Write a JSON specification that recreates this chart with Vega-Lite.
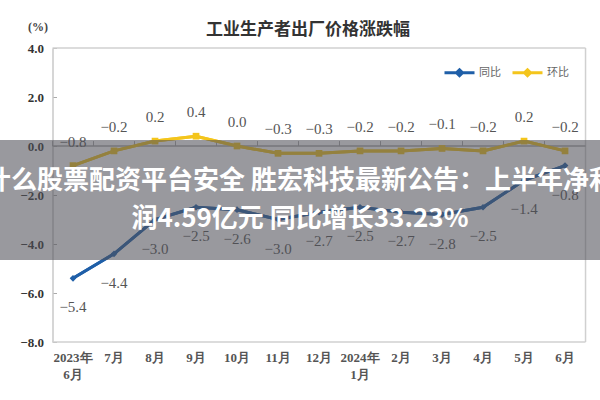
{
  "$schema": "https://vega.github.io/schema/vega-lite/v6.json",
  "width": 600,
  "height": 294,
  "autosize": "none",
  "padding": {"top": 48, "left": 0, "right": 0, "bottom": 58},
  "background": "white",
  "config": {"view": {"stroke": null}},
  "title": {"text": "工业生产者出厂价格涨跌幅", "font": "Noto Sans CJK SC", "fontSize": 17, "fontWeight": "bold", "color": "#333", "anchor": "middle", "frame": "group", "dx": 8, "offset": -19},
  "datasets": {
    "ppi": [
      {"m": "2023年6月", "s": "同比", "v": -5.4},
      {"m": "7月", "s": "同比", "v": -4.4},
      {"m": "8月", "s": "同比", "v": -3.0},
      {"m": "9月", "s": "同比", "v": -2.5},
      {"m": "10月", "s": "同比", "v": -2.6},
      {"m": "11月", "s": "同比", "v": -3.0},
      {"m": "12月", "s": "同比", "v": -2.7},
      {"m": "2024年1月", "s": "同比", "v": -2.5},
      {"m": "2月", "s": "同比", "v": -2.7},
      {"m": "3月", "s": "同比", "v": -2.8},
      {"m": "4月", "s": "同比", "v": -2.5},
      {"m": "5月", "s": "同比", "v": -1.4},
      {"m": "6月", "s": "同比", "v": -0.8},
      {"m": "2023年6月", "s": "环比", "v": -0.8},
      {"m": "7月", "s": "环比", "v": -0.2},
      {"m": "8月", "s": "环比", "v": 0.2},
      {"m": "9月", "s": "环比", "v": 0.4},
      {"m": "10月", "s": "环比", "v": 0.0},
      {"m": "11月", "s": "环比", "v": -0.3},
      {"m": "12月", "s": "环比", "v": -0.3},
      {"m": "2024年1月", "s": "环比", "v": -0.2},
      {"m": "2月", "s": "环比", "v": -0.2},
      {"m": "3月", "s": "环比", "v": -0.1},
      {"m": "4月", "s": "环比", "v": -0.2},
      {"m": "5月", "s": "环比", "v": 0.2},
      {"m": "6月", "s": "环比", "v": -0.2}
    ],
    "one": [{"k": 1}]
  },
  "layer": [
    {"data": {"name": "ppi"}, "mark": {"type": "line", "strokeWidth": 3},
      "encoding": {
        "x": {"field": "m", "type": "ordinal",
          "scale": {"type": "band", "domain": ["2023年6月","7月","8月","9月","10月","11月","12月","2024年1月","2月","3月","4月","5月","6月"], "paddingInner": 0, "paddingOuter": 0.817, "align": 0.784},
          "axis": {"title": null, "orient": "bottom", "domain": false, "ticks": false, "labelAngle": 0, "labelPadding": 9, "labelBaseline": "top", "labelLineHeight": 17, "labelFont": "Liberation Serif", "labelFontWeight": "bold", "labelFontSize": 13, "labelColor": "#555", "labelOverlap": false, "labelFlush": false, "labelBound": false,
            "labelExpr": "indexof(datum.value,'年') > 0 ? [slice(datum.value,0,5), slice(datum.value,5)] : datum.value"}},
        "y": {"field": "v", "type": "quantitative",
          "scale": {"domain": [-8, 4], "nice": false, "zero": false},
          "axis": {"values": [-8, -6, -4, -2, 0, 2, 4], "format": ".1f", "offset": -52.5, "grid": false, "domainColor": "#c8c8c8", "domainWidth": 1.5, "tickColor": "#aaa", "tickSize": -4, "labelPadding": 13, "labelFont": "Liberation Serif", "labelFontWeight": "bold", "labelFontSize": 13, "labelColor": "#333",
            "title": "(%)", "titleAngle": 0, "titleX": -15, "titleY": -22, "titleAlign": "center", "titleBaseline": "middle", "titleFont": "Liberation Serif", "titleFontWeight": "bold", "titleFontSize": 12, "titleColor": "#444"}},
        "color": {"field": "s", "type": "nominal",
          "scale": {"domain": ["同比", "环比"], "range": ["#1f5fa8", "#f4c51c"]},
          "legend": {"orient": "none", "legendX": 443, "legendY": 8, "direction": "horizontal", "title": null, "symbolType": "M-1,0H1M0,-0.2L0.2,0L0,0.2L-0.2,0Z", "symbolSize": 900, "symbolStrokeWidth": 3, "labelFont": "Noto Sans CJK SC", "labelFontSize": 11, "labelColor": "#666", "labelOffset": 3, "columnPadding": 5, "padding": 0}}}},
    {"data": {"name": "one"}, "mark": {"type": "rule", "color": "#d0d0d0", "strokeWidth": 1.5},
      "encoding": {"x": {"datum": "6月", "type": "ordinal", "bandPosition": 1}, "y": {"datum": 4, "type": "quantitative"}, "y2": {"datum": -8}}},
    {"data": {"name": "one"}, "mark": {"type": "rule", "color": "#d0d0d0", "strokeWidth": 1.5},
      "encoding": {"x": {"datum": "2023年6月", "type": "ordinal", "bandPosition": 0}, "x2": {"datum": "6月", "bandPosition": 1}, "y": {"datum": 4, "type": "quantitative"}}},
    {"data": {"name": "one"}, "mark": {"type": "rule", "color": "#d0d0d0", "strokeWidth": 1.5},
      "encoding": {"x": {"datum": "2023年6月", "type": "ordinal", "bandPosition": 0}, "x2": {"datum": "6月", "bandPosition": 1}, "y": {"datum": -8, "type": "quantitative"}}},
    {"data": {"name": "one"}, "mark": {"type": "rule", "color": "#a8a8a8", "strokeWidth": 1.5},
      "encoding": {"x": {"datum": "2023年6月", "type": "ordinal", "bandPosition": 0}, "x2": {"datum": "6月", "bandPosition": 1}, "y": {"datum": 0, "type": "quantitative"}}},
    {"data": {"name": "ppi"}, "transform": [{"filter": "datum.s == '同比'"}], "mark": {"type": "rule", "color": "#a8a8a8", "strokeWidth": 1},
      "encoding": {"x": {"field": "m", "type": "ordinal", "bandPosition": 0}, "y": {"datum": 0, "type": "quantitative"}, "y2": {"datum": 0.2}}},
    {"data": {"name": "ppi"}, "transform": [{"filter": "datum.s == '同比'"}], "mark": {"type": "line", "strokeWidth": 3, "color": "#1f5fa8", "point": {"shape": "diamond", "filled": true, "size": 45, "color": "#1f5fa8"}},
      "encoding": {"x": {"field": "m", "type": "ordinal"}, "y": {"field": "v", "type": "quantitative"}}},
    {"data": {"name": "ppi"}, "transform": [{"filter": "datum.s == '环比'"}], "mark": {"type": "line", "strokeWidth": 3, "color": "#f4c51c", "point": {"shape": "square", "filled": true, "size": 45, "color": "#f4c51c"}},
      "encoding": {"x": {"field": "m", "type": "ordinal"}, "y": {"field": "v", "type": "quantitative"}}},
    {"data": {"name": "ppi"}, "transform": [{"filter": "datum.s == '环比'"}], "mark": {"type": "text", "dy": -24, "font": "Liberation Serif", "fontSize": 15, "fill": "#555", "baseline": "middle"},
      "encoding": {"x": {"field": "m", "type": "ordinal"}, "y": {"field": "v", "type": "quantitative"}, "text": {"field": "v", "type": "quantitative", "format": ".1f"}}},
    {"data": {"name": "ppi"}, "transform": [{"filter": "datum.s == '同比'"}], "mark": {"type": "text", "dy": 29, "font": "Liberation Serif", "fontSize": 15, "fill": "#555", "baseline": "middle"},
      "encoding": {"x": {"field": "m", "type": "ordinal"}, "y": {"field": "v", "type": "quantitative"}, "text": {"field": "v", "type": "quantitative", "format": ".1f"}}},
    {"data": {"name": "one"}, "mark": {"type": "rect", "fill": "#505058", "opacity": 0.58},
      "encoding": {"y": {"datum": 0.245, "type": "quantitative"}, "y2": {"datum": -4.65}}},
    {"data": {"name": "one"}, "mark": {"type": "text", "text": ["什么股票配资平台安全 胜宏科技最新公告：上半年净利", "润4.59亿元 同比增长33.23%"], "lineHeight": 38, "font": "Noto Sans CJK SC", "fontSize": 26, "fontWeight": "bold", "fill": "white", "align": "center", "baseline": "middle"},
      "encoding": {"y": {"datum": -1.43, "type": "quantitative"}}}
  ]
}
